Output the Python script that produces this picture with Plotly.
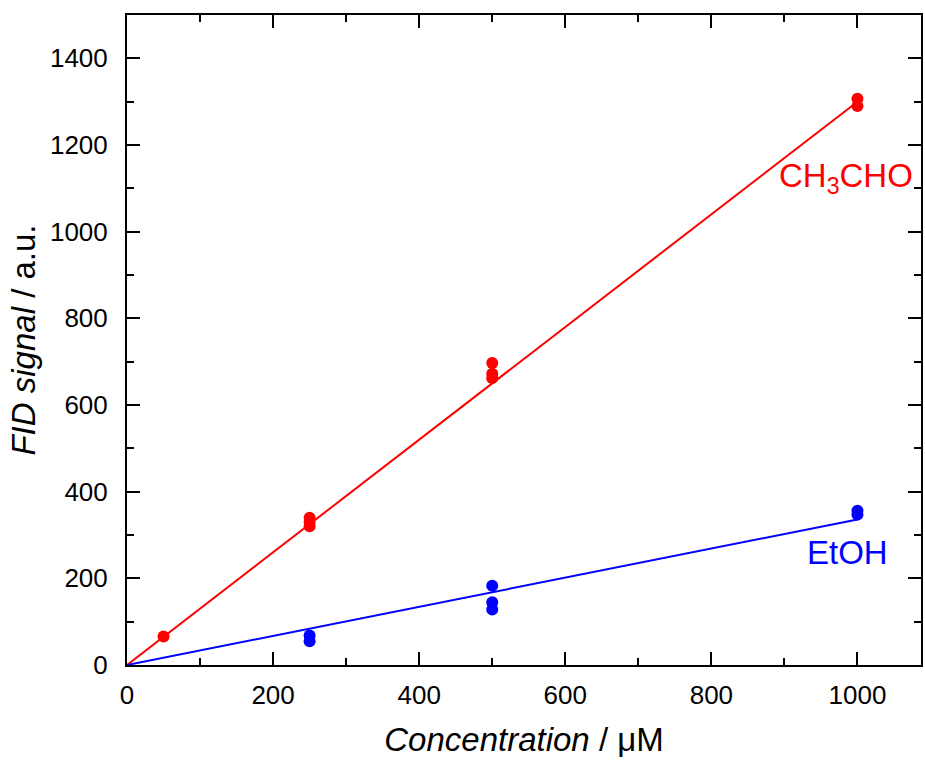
import plotly.graph_objects as go

# Data
ch3cho_x = [50, 250, 250, 250, 500, 500, 500, 1000, 1000]
ch3cho_y = [66, 340, 330, 320, 697, 672, 662, 1307, 1290]
etoh_x = [250, 250, 500, 500, 500, 1000, 1000]
etoh_y = [68, 55, 183, 145, 128, 356, 347]
fit_x = [0, 1000]
ch3cho_fit = [0, 1300]
etoh_fit = [0, 336]

RED = "#ff0000"
BLUE = "#0000ff"
FONT = "Arial, 'Liberation Sans', sans-serif"

fig = go.Figure()
fig.add_trace(go.Scatter(x=fit_x, y=ch3cho_fit, mode="lines",
                         line=dict(color=RED, width=2), showlegend=False))
fig.add_trace(go.Scatter(x=fit_x, y=etoh_fit, mode="lines",
                         line=dict(color=BLUE, width=2), showlegend=False))
fig.add_trace(go.Scatter(x=ch3cho_x, y=ch3cho_y, mode="markers",
                         marker=dict(color=RED, size=12), showlegend=False))
fig.add_trace(go.Scatter(x=etoh_x, y=etoh_y, mode="markers",
                         marker=dict(color=BLUE, size=12), showlegend=False))

fig.add_annotation(x=985, y=1125, xref="x", yref="y", text="CH<sub>3</sub>CHO",
                   showarrow=False, font=dict(color=RED, size=33, family=FONT))
fig.add_annotation(x=987, y=260, xref="x", yref="y", text="EtOH",
                   showarrow=False, font=dict(color=BLUE, size=33, family=FONT))

axis_common = dict(
    showline=True, linecolor="black", linewidth=2, mirror="ticks",
    ticks="inside", ticklen=13, tickwidth=2, tickcolor="black",
    showgrid=False, zeroline=False,
    tickfont=dict(size=26, color="black", family=FONT),
)

fig.update_xaxes(
    range=[0, 1087], tickmode="linear", tick0=0, dtick=200,
    minor=dict(ticks="inside", ticklen=7, tickwidth=2, tickcolor="black", dtick=100, tick0=0),
    title=dict(text="<i>Concentration</i> / μM", font=dict(size=33, color="black", family=FONT), standoff=19),
    ticklabelstandoff=6,
    **axis_common,
)
fig.update_yaxes(
    range=[0, 1500], tickmode="linear", tick0=0, dtick=200,
    minor=dict(ticks="inside", ticklen=7, tickwidth=2, tickcolor="black", dtick=100, tick0=0),
    title=dict(text="<i>FID signal</i> / a.u.", font=dict(size=33, color="black", family=FONT), standoff=4),
    ticklabelstandoff=12,
    **axis_common,
)

fig.update_layout(
    width=925, height=761,
    margin=dict(l=127, r=2, t=15, b=96),
    plot_bgcolor="white", paper_bgcolor="white",
    font=dict(family=FONT),
)

fig.write_html("out.html")
